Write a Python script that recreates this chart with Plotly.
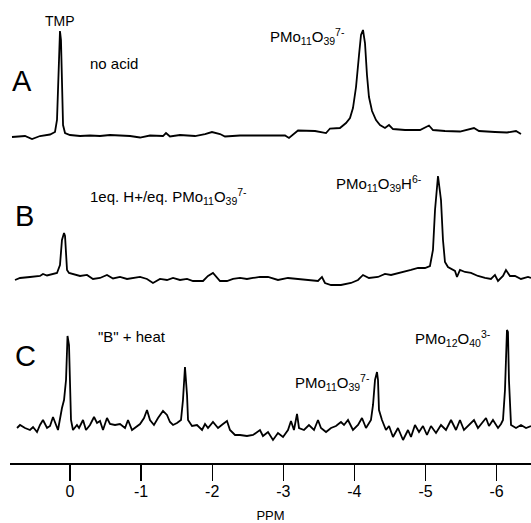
import plotly.graph_objects as go

# ---------------- data ----------------
# chemical shift (ppm) and intensity (arbitrary units, baseline = 0)
ppm_A = [0.816, 0.633, 0.534, 0.422, 0.281, 0.211, 0.183, 0.155, 0.141, 0.127, 0.113, 0.098, 0.070,
         0.0, -0.141, -0.281, -0.422, -0.563, -0.844, -0.985, -1.125, -1.308, -1.350, -1.406, -1.547,
         -1.758, -1.899, -1.997, -2.110, -2.180, -2.391, -2.813, -3.024, -3.080, -3.207, -3.446, -3.601,
         -3.657, -3.797, -3.882, -3.938, -3.980, -4.023, -4.065, -4.093, -4.121, -4.149, -4.177, -4.205,
         -4.248, -4.304, -4.360, -4.430, -4.487, -4.543, -4.712, -4.923, -5.049, -5.105, -5.274, -5.485,
         -5.682, -5.752, -5.977, -6.146, -6.273, -6.343]
int_A = [-2, -1, -4, -1, 0.5, 3, 15, 75, 104, 95, 35, 10, 2,
         0, -1, -0.5, -1, 0, -1, -2.5, -0.5, -1, 2, -1.5, 0,
         -1, 1, 3, 1, -1.5, -0.5, -0.5, -0.5, -3, 4.5, 4, 2,
         6.5, 7, 12, 17, 27, 48, 80, 100, 105, 92, 60, 38,
         24, 15, 10, 7, 10, 6, 5, 5, 9.5, 5, 4, 3.5,
         7, 4, 3, 2.5, 4, 1]

ppm_B = [0.774, 0.703, 0.563, 0.422, 0.380, 0.323, 0.183, 0.141, 0.113, 0.084, 0.070, 0.056, 0.042,
         0.014, -0.042, -0.141, -0.239, -0.323, -0.422, -0.520, -0.605, -0.703, -0.802, -0.886, -0.985,
         -1.083, -1.167, -1.266, -1.364, -1.449, -1.547, -1.646, -1.730, -1.871, -1.941, -2.011, -2.068,
         -2.110, -2.208, -2.293, -2.391, -2.489, -2.574, -2.672, -2.785, -2.925, -3.066, -3.207, -3.347,
         -3.488, -3.544, -3.586, -3.671, -3.811, -3.952, -4.051, -4.121, -4.205, -4.332, -4.430, -4.515,
         -4.613, -4.712, -4.796, -4.895, -4.993, -5.063, -5.105, -5.134, -5.176, -5.218, -5.246, -5.274,
         -5.316, -5.415, -5.443, -5.485, -5.556, -5.640, -5.738, -5.837, -5.921, -5.977, -6.020, -6.090,
         -6.132, -6.188, -6.259, -6.343, -6.442, -6.484]
int_B = [-2, 0, 1, 2, 4, 2.5, 5, 13, 38, 45, 42, 23, 8,
         5, 4, 2, 3, -1, 0, 3, -0.5, 1, -1, 0, 1,
         -1, -5, -1, -2, 0, -2, -1, -3, -3, 2, 5, 1,
         -3, -3, -1, 0, -1, 0, 1, 1, -2, 0, -1, -2,
         -3, 1, -5, -7, -7, -5, -2, 3, 0, 1, 4, 3,
         4.5, 6, 8, 10, 10, 12, 28, 68, 102, 78, 38, 16,
         11, 7, 1, 8, 6, 5, 2, 0, -1, 3, -3, 2,
         8, 2, 2, -1, 1, 0]

ppm_C = [0.745, 0.703, 0.633, 0.563, 0.520, 0.464, 0.422, 0.380, 0.323, 0.281, 0.239, 0.197, 0.169,
         0.113, 0.084, 0.056, 0.035, 0.014, 0.0, -0.014, -0.042, -0.098, -0.127, -0.183, -0.225,
         -0.281, -0.338, -0.380, -0.422, -0.464, -0.520, -0.563, -0.633, -0.703, -0.774, -0.816, -0.872,
         -0.914, -0.985, -1.041, -1.083, -1.125, -1.181, -1.238, -1.308, -1.364, -1.406, -1.449, -1.505,
         -1.561, -1.589, -1.617, -1.646, -1.660, -1.716, -1.786, -1.857, -1.899, -1.941, -2.011, -2.082,
         -2.152, -2.208, -2.250, -2.321, -2.391, -2.489, -2.574, -2.630, -2.672, -2.714, -2.785, -2.855,
         -2.925, -2.996, -3.066, -3.108, -3.150, -3.193, -3.221, -3.291, -3.361, -3.432, -3.488, -3.530,
         -3.601, -3.671, -3.741, -3.811, -3.854, -3.910, -3.980, -4.051, -4.107, -4.163, -4.233, -4.262,
         -4.290, -4.318, -4.332, -4.346, -4.388, -4.444, -4.487, -4.543, -4.613, -4.684, -4.754, -4.796,
         -4.852, -4.909, -4.965, -5.021, -5.077, -5.148, -5.218, -5.288, -5.359, -5.429, -5.485, -5.541,
         -5.612, -5.682, -5.738, -5.809, -5.851, -5.893, -5.949, -6.020, -6.062, -6.090, -6.118, -6.146,
         -6.160, -6.174, -6.203, -6.273, -6.343, -6.414, -6.484]
int_C = [0, 3, 0, -2, 1, -4, 3, 8, 0, 2, 11, 2, -2,
         20, 28, 48, 92, 83, 38, 8, -2, 3, 0, 8, -2,
         3, 11, 5, 7, -2, 10, 4, 3, 4, 0, 8, -2,
         0, 4, 10, 18, 8, 3, 10, 17, 13, 6, 3, 5,
         8, 28, 61, 33, 8, 2, 3, -2, 4, 0, 6, 0,
         4, 7, -2, -7, -7, -8, -7, -4, -2, -8, -4, -12,
         -5, -9, -2, 7, -2, 14, 0, -2, 3, -2, 8, 0,
         -4, 0, 2, 6, 3, 8, -2, 3, 10, 0, 8, 23,
         48, 56, 48, 18, 8, -2, 2, -9, 0, -12, -2, -9,
         3, -4, 2, -7, 2, -5, 3, -2, 8, -2, 8, -2,
         3, 8, 0, 6, 10, 2, 8, 0, 4, 8, 38, 98,
         96, 48, 3, 0, 3, 0, 2]

tick_vals = [0, -1, -2, -3, -4, -5, -6]
tick_text = ["0", "-1", "-2", "-3", "-4", "-5", "-6"]

# ---------------- figure ----------------
FONT = "Liberation Sans, Arial, Helvetica, sans-serif"
line = dict(color="black", width=1.8)

fig = go.Figure()
fig.add_trace(go.Scatter(x=ppm_A, y=int_A, mode="lines", line=line, yaxis="y3", hoverinfo="skip"))
fig.add_trace(go.Scatter(x=ppm_B, y=int_B, mode="lines", line=line, yaxis="y2", hoverinfo="skip"))
fig.add_trace(go.Scatter(x=ppm_C, y=int_C, mode="lines", line=line, yaxis="y", hoverinfo="skip"))

hidden = dict(visible=False, fixedrange=True)
fig.update_layout(
    width=531, height=523,
    margin=dict(l=10, r=0, t=0, b=60),
    paper_bgcolor="white", plot_bgcolor="white",
    showlegend=False,
    font=dict(family=FONT, color="black"),
    xaxis=dict(range=[0.844, -6.484], tickvals=tick_vals, ticktext=tick_text,
               ticks="outside", ticklen=16, tickwidth=1.3, tickcolor="black",
               showline=True, linecolor="black", linewidth=2.4,
               showgrid=False, zeroline=False, automargin=False,
               ticklabelstandoff=-4, fixedrange=True,
               tickfont=dict(size=16, family=FONT),
               title=dict(text="PPM", font=dict(size=13, family=FONT), standoff=14)),
    yaxis=dict(domain=[0.0, 0.3089], range=[-35, 108], **hidden),
    yaxis2=dict(domain=[0.3413, 0.6436], range=[-27, 113], **hidden),
    yaxis3=dict(domain=[0.6544, 0.9784], range=[-25, 125], **hidden),
)

small = dict(size=15, family=FONT)
big = dict(size=29, family=FONT)
ann = [
    # panel A
    dict(x=0.675, y=54, yref="y3", text="A", font=big),
    dict(x=0.141, y=114, yref="y3", text="TMP", font=dict(size=14, family=FONT)),
    dict(x=-0.619, y=72, yref="y3", text="no acid", font=small),
    dict(x=-3.347, y=99, yref="y3", text="PMo<sub>11</sub>O<sub>39</sub><sup>7-</sup>", font=small),
    # panel B
    dict(x=0.647, y=62, yref="y2", text="B", font=big),
    dict(x=-1.392, y=82, yref="y2", text="1eq. H+/eq. PMo<sub>11</sub>O<sub>39</sub><sup>7-</sup>", font=small),
    dict(x=-4.346, y=95, yref="y2", text="PMo<sub>11</sub>O<sub>39</sub>H<sup>6-</sup>", font=small),
    # panel C
    dict(x=0.633, y=72, yref="y", text="C", font=big),
    dict(x=-0.872, y=91, yref="y", text="\"B\" + heat", font=small),
    dict(x=-5.387, y=89, yref="y", text="PMo<sub>12</sub>O<sub>40</sub><sup>3-</sup>", font=small),
    dict(x=-3.685, y=45, yref="y", text="PMo<sub>11</sub>O<sub>39</sub><sup>7-</sup>", font=small),
]
for a in ann:
    a.update(xref="x", showarrow=False, xanchor="center", yanchor="middle")
fig.update_layout(annotations=ann)

fig.write_html("out.html", config={"displayModeBar": False, "staticPlot": True},
               post_script="document.body.style.margin='0';document.body.style.overflow='hidden';")
